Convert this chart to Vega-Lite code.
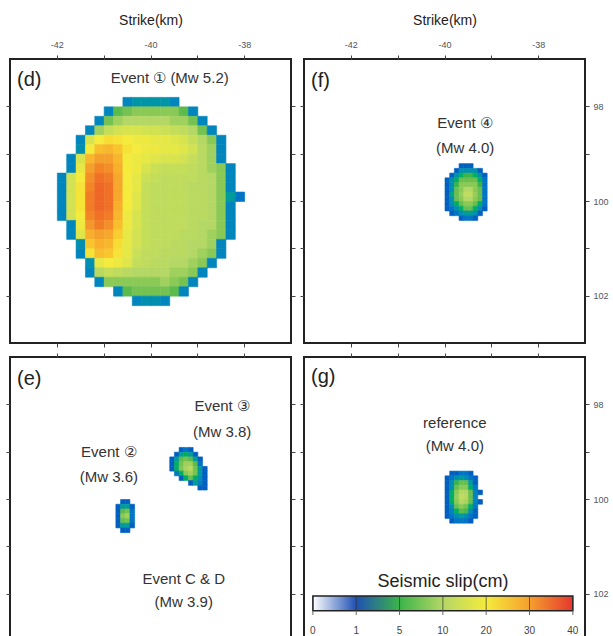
{
"$schema":"https://vega.github.io/schema/vega-lite/v6.json",
"padding":{"left":4,"top":12,"right":0,"bottom":0},
"config":{
"view":{"stroke":"#222","strokeWidth":2},
"axis":{"domain":false,"grid":false,"tickSize":4,"tickColor":"#444","tickWidth":1,"labelFontSize":9,"labelColor":"#555","labelFont":"Liberation Sans","titleFont":"Liberation Sans","titleFontSize":14,"titleFontWeight":"normal","titleColor":"#222","titlePadding":13,"labelPadding":6},
"text":{"font":"Liberation Sans","color":"#222"}
},
"datasets":{
"d":[
{"x":-40.6,"y":97.8,"s":2.6},{"x":-40.4,"y":97.8,"s":3.2},{"x":-40.2,"y":97.8,"s":3.2},{"x":-40,"y":97.8,"s":3.2},{"x":-39.8,"y":97.8,"s":3.2},{"x":-39.6,"y":97.8,"s":2.6},
{"x":-41,"y":98,"s":2.6},{"x":-40.8,"y":98,"s":6},{"x":-40.6,"y":98,"s":7},{"x":-40.4,"y":98,"s":8},{"x":-40.2,"y":98,"s":8},{"x":-40,"y":98,"s":8},{"x":-39.8,"y":98,"s":8},{"x":-39.6,"y":98,"s":8},{"x":-39.4,"y":98,"s":6},{"x":-39.2,"y":98,"s":2.6},
{"x":-41.2,"y":98.2,"s":2.6},{"x":-41,"y":98.2,"s":7},{"x":-40.8,"y":98.2,"s":9},{"x":-40.6,"y":98.2,"s":10},{"x":-40.4,"y":98.2,"s":10},{"x":-40.2,"y":98.2,"s":10},{"x":-40,"y":98.2,"s":10},{"x":-39.8,"y":98.2,"s":10},{"x":-39.6,"y":98.2,"s":9},{"x":-39.4,"y":98.2,"s":9},{"x":-39.2,"y":98.2,"s":7},{"x":-39,"y":98.2,"s":2.6},
{"x":-41.4,"y":98.4,"s":2.6},{"x":-41.2,"y":98.4,"s":9},{"x":-41,"y":98.4,"s":13},{"x":-40.8,"y":98.4,"s":15},{"x":-40.6,"y":98.4,"s":16},{"x":-40.4,"y":98.4,"s":16},{"x":-40.2,"y":98.4,"s":15},{"x":-40,"y":98.4,"s":15},{"x":-39.8,"y":98.4,"s":14},{"x":-39.6,"y":98.4,"s":13},{"x":-39.4,"y":98.4,"s":12},{"x":-39.2,"y":98.4,"s":10},{"x":-39,"y":98.4,"s":7},{"x":-38.8,"y":98.4,"s":2.6},
{"x":-41.6,"y":98.6,"s":2.6},{"x":-41.4,"y":98.6,"s":16},{"x":-41.2,"y":98.6,"s":20},{"x":-41,"y":98.6,"s":22},{"x":-40.8,"y":98.6,"s":21},{"x":-40.6,"y":98.6,"s":20},{"x":-40.4,"y":98.6,"s":19},{"x":-40.2,"y":98.6,"s":19},{"x":-40,"y":98.6,"s":18},{"x":-39.8,"y":98.6,"s":18},{"x":-39.6,"y":98.6,"s":17},{"x":-39.4,"y":98.6,"s":16},{"x":-39.2,"y":98.6,"s":13},{"x":-39,"y":98.6,"s":10},{"x":-38.8,"y":98.6,"s":8},{"x":-38.6,"y":98.6,"s":2.6},
{"x":-41.6,"y":98.8,"s":3},{"x":-41.4,"y":98.8,"s":20},{"x":-41.2,"y":98.8,"s":26},{"x":-41,"y":98.8,"s":27},{"x":-40.8,"y":98.8,"s":25},{"x":-40.6,"y":98.8,"s":21},{"x":-40.4,"y":98.8,"s":20},{"x":-40.2,"y":98.8,"s":19},{"x":-40,"y":98.8,"s":19},{"x":-39.8,"y":98.8,"s":18},{"x":-39.6,"y":98.8,"s":18},{"x":-39.4,"y":98.8,"s":17},{"x":-39.2,"y":98.8,"s":15},{"x":-39,"y":98.8,"s":11},{"x":-38.8,"y":98.8,"s":9},{"x":-38.6,"y":98.8,"s":2.6},
{"x":-41.8,"y":99,"s":2.6},{"x":-41.6,"y":99,"s":16},{"x":-41.4,"y":99,"s":27},{"x":-41.2,"y":99,"s":30},{"x":-41,"y":99,"s":30},{"x":-40.8,"y":99,"s":27},{"x":-40.6,"y":99,"s":20},{"x":-40.4,"y":99,"s":19},{"x":-40.2,"y":99,"s":18},{"x":-40,"y":99,"s":17},{"x":-39.8,"y":99,"s":16},{"x":-39.6,"y":99,"s":16},{"x":-39.4,"y":99,"s":15},{"x":-39.2,"y":99,"s":13},{"x":-39,"y":99,"s":11},{"x":-38.8,"y":99,"s":9},{"x":-38.6,"y":99,"s":2.6},
{"x":-41.8,"y":99.2,"s":2.6},{"x":-41.6,"y":99.2,"s":18},{"x":-41.4,"y":99.2,"s":30},{"x":-41.2,"y":99.2,"s":33},{"x":-41,"y":99.2,"s":32},{"x":-40.8,"y":99.2,"s":28},{"x":-40.6,"y":99.2,"s":20},{"x":-40.4,"y":99.2,"s":19},{"x":-40.2,"y":99.2,"s":16},{"x":-40,"y":99.2,"s":14},{"x":-39.8,"y":99.2,"s":13},{"x":-39.6,"y":99.2,"s":13},{"x":-39.4,"y":99.2,"s":13},{"x":-39.2,"y":99.2,"s":12},{"x":-39,"y":99.2,"s":11},{"x":-38.8,"y":99.2,"s":9},{"x":-38.6,"y":99.2,"s":8},{"x":-38.4,"y":99.2,"s":2.6},
{"x":-42,"y":99.4,"s":2.6},{"x":-41.8,"y":99.4,"s":15},{"x":-41.6,"y":99.4,"s":20},{"x":-41.4,"y":99.4,"s":32},{"x":-41.2,"y":99.4,"s":35},{"x":-41,"y":99.4,"s":34},{"x":-40.8,"y":99.4,"s":29},{"x":-40.6,"y":99.4,"s":20},{"x":-40.4,"y":99.4,"s":18},{"x":-40.2,"y":99.4,"s":14},{"x":-40,"y":99.4,"s":13},{"x":-39.8,"y":99.4,"s":12},{"x":-39.6,"y":99.4,"s":12},{"x":-39.4,"y":99.4,"s":12},{"x":-39.2,"y":99.4,"s":12},{"x":-39,"y":99.4,"s":11},{"x":-38.8,"y":99.4,"s":10},{"x":-38.6,"y":99.4,"s":8},{"x":-38.4,"y":99.4,"s":2.6},
{"x":-42,"y":99.6,"s":2.6},{"x":-41.8,"y":99.6,"s":15},{"x":-41.6,"y":99.6,"s":21},{"x":-41.4,"y":99.6,"s":33},{"x":-41.2,"y":99.6,"s":36},{"x":-41,"y":99.6,"s":35},{"x":-40.8,"y":99.6,"s":29},{"x":-40.6,"y":99.6,"s":20},{"x":-40.4,"y":99.6,"s":18},{"x":-40.2,"y":99.6,"s":13},{"x":-40,"y":99.6,"s":12},{"x":-39.8,"y":99.6,"s":12},{"x":-39.6,"y":99.6,"s":12},{"x":-39.4,"y":99.6,"s":12},{"x":-39.2,"y":99.6,"s":11},{"x":-39,"y":99.6,"s":11},{"x":-38.8,"y":99.6,"s":10},{"x":-38.6,"y":99.6,"s":8},{"x":-38.4,"y":99.6,"s":2.6},
{"x":-42,"y":99.8,"s":2.6},{"x":-41.8,"y":99.8,"s":15},{"x":-41.6,"y":99.8,"s":21},{"x":-41.4,"y":99.8,"s":34},{"x":-41.2,"y":99.8,"s":36},{"x":-41,"y":99.8,"s":35},{"x":-40.8,"y":99.8,"s":29},{"x":-40.6,"y":99.8,"s":20},{"x":-40.4,"y":99.8,"s":17},{"x":-40.2,"y":99.8,"s":13},{"x":-40,"y":99.8,"s":12},{"x":-39.8,"y":99.8,"s":12},{"x":-39.6,"y":99.8,"s":12},{"x":-39.4,"y":99.8,"s":12},{"x":-39.2,"y":99.8,"s":11},{"x":-39,"y":99.8,"s":11},{"x":-38.8,"y":99.8,"s":10},{"x":-38.6,"y":99.8,"s":8},{"x":-38.4,"y":99.8,"s":3.5},{"x":-38.2,"y":99.8,"s":2},
{"x":-42,"y":100,"s":2.6},{"x":-41.8,"y":100,"s":15},{"x":-41.6,"y":100,"s":21},{"x":-41.4,"y":100,"s":34},{"x":-41.2,"y":100,"s":36},{"x":-41,"y":100,"s":35},{"x":-40.8,"y":100,"s":28},{"x":-40.6,"y":100,"s":20},{"x":-40.4,"y":100,"s":17},{"x":-40.2,"y":100,"s":13},{"x":-40,"y":100,"s":12},{"x":-39.8,"y":100,"s":12},{"x":-39.6,"y":100,"s":12},{"x":-39.4,"y":100,"s":12},{"x":-39.2,"y":100,"s":11},{"x":-39,"y":100,"s":11},{"x":-38.8,"y":100,"s":10},{"x":-38.6,"y":100,"s":8},{"x":-38.4,"y":100,"s":2.6},
{"x":-42,"y":100.2,"s":2.6},{"x":-41.8,"y":100.2,"s":15},{"x":-41.6,"y":100.2,"s":20},{"x":-41.4,"y":100.2,"s":33},{"x":-41.2,"y":100.2,"s":35},{"x":-41,"y":100.2,"s":34},{"x":-40.8,"y":100.2,"s":27},{"x":-40.6,"y":100.2,"s":19},{"x":-40.4,"y":100.2,"s":16},{"x":-40.2,"y":100.2,"s":13},{"x":-40,"y":100.2,"s":12},{"x":-39.8,"y":100.2,"s":12},{"x":-39.6,"y":100.2,"s":12},{"x":-39.4,"y":100.2,"s":12},{"x":-39.2,"y":100.2,"s":11},{"x":-39,"y":100.2,"s":11},{"x":-38.8,"y":100.2,"s":10},{"x":-38.6,"y":100.2,"s":8},{"x":-38.4,"y":100.2,"s":2.6},
{"x":-41.8,"y":100.4,"s":2.6},{"x":-41.6,"y":100.4,"s":19},{"x":-41.4,"y":100.4,"s":31},{"x":-41.2,"y":100.4,"s":34},{"x":-41,"y":100.4,"s":32},{"x":-40.8,"y":100.4,"s":26},{"x":-40.6,"y":100.4,"s":19},{"x":-40.4,"y":100.4,"s":16},{"x":-40.2,"y":100.4,"s":13},{"x":-40,"y":100.4,"s":12},{"x":-39.8,"y":100.4,"s":12},{"x":-39.6,"y":100.4,"s":12},{"x":-39.4,"y":100.4,"s":12},{"x":-39.2,"y":100.4,"s":11},{"x":-39,"y":100.4,"s":10},{"x":-38.8,"y":100.4,"s":10},{"x":-38.6,"y":100.4,"s":8},{"x":-38.4,"y":100.4,"s":2.6},
{"x":-41.8,"y":100.6,"s":2.6},{"x":-41.6,"y":100.6,"s":17},{"x":-41.4,"y":100.6,"s":28},{"x":-41.2,"y":100.6,"s":30},{"x":-41,"y":100.6,"s":29},{"x":-40.8,"y":100.6,"s":24},{"x":-40.6,"y":100.6,"s":18},{"x":-40.4,"y":100.6,"s":15},{"x":-40.2,"y":100.6,"s":13},{"x":-40,"y":100.6,"s":12},{"x":-39.8,"y":100.6,"s":12},{"x":-39.6,"y":100.6,"s":12},{"x":-39.4,"y":100.6,"s":11},{"x":-39.2,"y":100.6,"s":11},{"x":-39,"y":100.6,"s":10},{"x":-38.8,"y":100.6,"s":9},{"x":-38.6,"y":100.6,"s":8},{"x":-38.4,"y":100.6,"s":2.6},
{"x":-41.6,"y":100.8,"s":3},{"x":-41.4,"y":100.8,"s":25},{"x":-41.2,"y":100.8,"s":28},{"x":-41,"y":100.8,"s":27},{"x":-40.8,"y":100.8,"s":22},{"x":-40.6,"y":100.8,"s":18},{"x":-40.4,"y":100.8,"s":15},{"x":-40.2,"y":100.8,"s":13},{"x":-40,"y":100.8,"s":12},{"x":-39.8,"y":100.8,"s":12},{"x":-39.6,"y":100.8,"s":11},{"x":-39.4,"y":100.8,"s":11},{"x":-39.2,"y":100.8,"s":10},{"x":-39,"y":100.8,"s":10},{"x":-38.8,"y":100.8,"s":9},{"x":-38.6,"y":100.8,"s":2.6},
{"x":-41.6,"y":101,"s":2.6},{"x":-41.4,"y":101,"s":21},{"x":-41.2,"y":101,"s":26},{"x":-41,"y":101,"s":25},{"x":-40.8,"y":101,"s":21},{"x":-40.6,"y":101,"s":18},{"x":-40.4,"y":101,"s":14},{"x":-40.2,"y":101,"s":12},{"x":-40,"y":101,"s":12},{"x":-39.8,"y":101,"s":11},{"x":-39.6,"y":101,"s":11},{"x":-39.4,"y":101,"s":11},{"x":-39.2,"y":101,"s":10},{"x":-39,"y":101,"s":9},{"x":-38.8,"y":101,"s":8},{"x":-38.6,"y":101,"s":2.6},
{"x":-41.4,"y":101.2,"s":3},{"x":-41.2,"y":101.2,"s":18},{"x":-41,"y":101.2,"s":20},{"x":-40.8,"y":101.2,"s":19},{"x":-40.6,"y":101.2,"s":17},{"x":-40.4,"y":101.2,"s":13},{"x":-40.2,"y":101.2,"s":12},{"x":-40,"y":101.2,"s":11},{"x":-39.8,"y":101.2,"s":11},{"x":-39.6,"y":101.2,"s":10},{"x":-39.4,"y":101.2,"s":10},{"x":-39.2,"y":101.2,"s":9},{"x":-39,"y":101.2,"s":8},{"x":-38.8,"y":101.2,"s":2.6},
{"x":-41.4,"y":101.4,"s":2.6},{"x":-41.2,"y":101.4,"s":11},{"x":-41,"y":101.4,"s":13},{"x":-40.8,"y":101.4,"s":12},{"x":-40.6,"y":101.4,"s":11},{"x":-40.4,"y":101.4,"s":10},{"x":-40.2,"y":101.4,"s":10},{"x":-40,"y":101.4,"s":10},{"x":-39.8,"y":101.4,"s":10},{"x":-39.6,"y":101.4,"s":9},{"x":-39.4,"y":101.4,"s":9},{"x":-39.2,"y":101.4,"s":8},{"x":-39,"y":101.4,"s":2.6},
{"x":-41.2,"y":101.6,"s":2.6},{"x":-41,"y":101.6,"s":8},{"x":-40.8,"y":101.6,"s":8},{"x":-40.6,"y":101.6,"s":8},{"x":-40.4,"y":101.6,"s":8},{"x":-40.2,"y":101.6,"s":8},{"x":-40,"y":101.6,"s":8},{"x":-39.8,"y":101.6,"s":9},{"x":-39.6,"y":101.6,"s":8},{"x":-39.4,"y":101.6,"s":7},{"x":-39.2,"y":101.6,"s":2.6},
{"x":-40.8,"y":101.8,"s":2.6},{"x":-40.6,"y":101.8,"s":6},{"x":-40.4,"y":101.8,"s":7},{"x":-40.2,"y":101.8,"s":7},{"x":-40,"y":101.8,"s":7},{"x":-39.8,"y":101.8,"s":7},{"x":-39.6,"y":101.8,"s":6},{"x":-39.4,"y":101.8,"s":2.6},
{"x":-40.4,"y":102,"s":2.6},{"x":-40.2,"y":102,"s":3},{"x":-40,"y":102,"s":3},{"x":-39.8,"y":102,"s":2.6}
],
"f":[
{"x":-39.7,"y":99.2,"s":1.4},{"x":-39.6,"y":99.2,"s":1.4},{"x":-39.5,"y":99.2,"s":1.4},
{"x":-39.8,"y":99.3,"s":1.4},{"x":-39.7,"y":99.3,"s":3},{"x":-39.6,"y":99.3,"s":3},{"x":-39.5,"y":99.3,"s":3},{"x":-39.4,"y":99.3,"s":3},{"x":-39.3,"y":99.3,"s":1.4},
{"x":-39.9,"y":99.4,"s":1.4},{"x":-39.8,"y":99.4,"s":3},{"x":-39.7,"y":99.4,"s":4.5},{"x":-39.6,"y":99.4,"s":5},{"x":-39.5,"y":99.4,"s":5},{"x":-39.4,"y":99.4,"s":4.5},{"x":-39.3,"y":99.4,"s":3},{"x":-39.2,"y":99.4,"s":1.4},
{"x":-40,"y":99.5,"s":1.4},{"x":-39.9,"y":99.5,"s":3},{"x":-39.8,"y":99.5,"s":4.5},{"x":-39.7,"y":99.5,"s":6.5},{"x":-39.6,"y":99.5,"s":6.5},{"x":-39.5,"y":99.5,"s":6.5},{"x":-39.4,"y":99.5,"s":6.5},{"x":-39.3,"y":99.5,"s":4.5},{"x":-39.2,"y":99.5,"s":2},
{"x":-40,"y":99.6,"s":1.4},{"x":-39.9,"y":99.6,"s":3},{"x":-39.8,"y":99.6,"s":5},{"x":-39.7,"y":99.6,"s":8},{"x":-39.6,"y":99.6,"s":8},{"x":-39.5,"y":99.6,"s":8},{"x":-39.4,"y":99.6,"s":8},{"x":-39.3,"y":99.6,"s":5},{"x":-39.2,"y":99.6,"s":2},
{"x":-40,"y":99.7,"s":1.4},{"x":-39.9,"y":99.7,"s":3},{"x":-39.8,"y":99.7,"s":6.5},{"x":-39.7,"y":99.7,"s":8},{"x":-39.6,"y":99.7,"s":10},{"x":-39.5,"y":99.7,"s":10},{"x":-39.4,"y":99.7,"s":8},{"x":-39.3,"y":99.7,"s":6.5},{"x":-39.2,"y":99.7,"s":2},
{"x":-40,"y":99.8,"s":1.4},{"x":-39.9,"y":99.8,"s":4},{"x":-39.8,"y":99.8,"s":6.5},{"x":-39.7,"y":99.8,"s":8.5},{"x":-39.6,"y":99.8,"s":12},{"x":-39.5,"y":99.8,"s":12},{"x":-39.4,"y":99.8,"s":8.5},{"x":-39.3,"y":99.8,"s":6.5},{"x":-39.2,"y":99.8,"s":2},
{"x":-40,"y":99.9,"s":1.4},{"x":-39.9,"y":99.9,"s":3},{"x":-39.8,"y":99.9,"s":6.5},{"x":-39.7,"y":99.9,"s":8},{"x":-39.6,"y":99.9,"s":10},{"x":-39.5,"y":99.9,"s":10},{"x":-39.4,"y":99.9,"s":8},{"x":-39.3,"y":99.9,"s":6.5},{"x":-39.2,"y":99.9,"s":2},
{"x":-40,"y":100,"s":1.4},{"x":-39.9,"y":100,"s":3},{"x":-39.8,"y":100,"s":4.5},{"x":-39.7,"y":100,"s":6.5},{"x":-39.6,"y":100,"s":8},{"x":-39.5,"y":100,"s":8},{"x":-39.4,"y":100,"s":6.5},{"x":-39.3,"y":100,"s":4.5},{"x":-39.2,"y":100,"s":2},
{"x":-40,"y":100.1,"s":1.4},{"x":-39.9,"y":100.1,"s":2},{"x":-39.8,"y":100.1,"s":3},{"x":-39.7,"y":100.1,"s":4.5},{"x":-39.6,"y":100.1,"s":6.5},{"x":-39.5,"y":100.1,"s":6.5},{"x":-39.4,"y":100.1,"s":4.5},{"x":-39.3,"y":100.1,"s":3},{"x":-39.2,"y":100.1,"s":1.4},
{"x":-39.9,"y":100.2,"s":1.4},{"x":-39.8,"y":100.2,"s":2},{"x":-39.7,"y":100.2,"s":3},{"x":-39.6,"y":100.2,"s":3.5},{"x":-39.5,"y":100.2,"s":3.5},{"x":-39.4,"y":100.2,"s":3},{"x":-39.3,"y":100.2,"s":1.4},
{"x":-39.7,"y":100.3,"s":1.4},{"x":-39.6,"y":100.3,"s":2},{"x":-39.5,"y":100.3,"s":2},{"x":-39.4,"y":100.3,"s":1.4}
],
"e":[
{"x":-40.65,"y":100,"s":1.4},{"x":-40.55,"y":100,"s":1.4},
{"x":-40.75,"y":100.1,"s":1.4},{"x":-40.65,"y":100.1,"s":3.5},{"x":-40.55,"y":100.1,"s":3.5},{"x":-40.45,"y":100.1,"s":1.4},
{"x":-40.75,"y":100.2,"s":1.4},{"x":-40.65,"y":100.2,"s":6},{"x":-40.55,"y":100.2,"s":7},{"x":-40.45,"y":100.2,"s":2},
{"x":-40.75,"y":100.3,"s":1.4},{"x":-40.65,"y":100.3,"s":8},{"x":-40.55,"y":100.3,"s":9},{"x":-40.45,"y":100.3,"s":2},
{"x":-40.75,"y":100.4,"s":1.4},{"x":-40.65,"y":100.4,"s":6.5},{"x":-40.55,"y":100.4,"s":7},{"x":-40.45,"y":100.4,"s":2},
{"x":-40.75,"y":100.5,"s":1.4},{"x":-40.65,"y":100.5,"s":3.5},{"x":-40.55,"y":100.5,"s":3.5},{"x":-40.45,"y":100.5,"s":1.4},
{"x":-40.65,"y":100.6,"s":1.4},{"x":-40.55,"y":100.6,"s":1.4},
{"x":-39.4,"y":98.9,"s":1.4},{"x":-39.3,"y":98.9,"s":2},{"x":-39.2,"y":98.9,"s":1.4},
{"x":-39.5,"y":99,"s":1.4},{"x":-39.4,"y":99,"s":3.5},{"x":-39.3,"y":99,"s":4.5},{"x":-39.2,"y":99,"s":3.5},{"x":-39.1,"y":99,"s":1.4},
{"x":-39.6,"y":99.1,"s":1.4},{"x":-39.5,"y":99.1,"s":3.5},{"x":-39.4,"y":99.1,"s":6},{"x":-39.3,"y":99.1,"s":7},{"x":-39.2,"y":99.1,"s":6},{"x":-39.1,"y":99.1,"s":3.5},{"x":-39,"y":99.1,"s":1.4},
{"x":-39.6,"y":99.2,"s":1.4},{"x":-39.5,"y":99.2,"s":4.5},{"x":-39.4,"y":99.2,"s":7},{"x":-39.3,"y":99.2,"s":9},{"x":-39.2,"y":99.2,"s":9},{"x":-39.1,"y":99.2,"s":6},{"x":-39,"y":99.2,"s":2},
{"x":-39.6,"y":99.3,"s":1.4},{"x":-39.5,"y":99.3,"s":4.5},{"x":-39.4,"y":99.3,"s":7.5},{"x":-39.3,"y":99.3,"s":9.5},{"x":-39.2,"y":99.3,"s":11},{"x":-39.1,"y":99.3,"s":7},{"x":-39,"y":99.3,"s":3.5},{"x":-38.9,"y":99.3,"s":1.4},
{"x":-39.5,"y":99.4,"s":2},{"x":-39.4,"y":99.4,"s":4.5},{"x":-39.3,"y":99.4,"s":8},{"x":-39.2,"y":99.4,"s":9},{"x":-39.1,"y":99.4,"s":7},{"x":-39,"y":99.4,"s":3.5},{"x":-38.9,"y":99.4,"s":1.4},
{"x":-39.4,"y":99.5,"s":1.4},{"x":-39.3,"y":99.5,"s":4.5},{"x":-39.2,"y":99.5,"s":6.5},{"x":-39.1,"y":99.5,"s":4.5},{"x":-39,"y":99.5,"s":3},{"x":-38.9,"y":99.5,"s":1.4},
{"x":-39.2,"y":99.6,"s":1.4},{"x":-39.1,"y":99.6,"s":3.5},{"x":-39,"y":99.6,"s":2.5},{"x":-38.9,"y":99.6,"s":1.4},
{"x":-39,"y":99.7,"s":1.4},{"x":-38.9,"y":99.7,"s":1.4}
],
"g":[
{"x":-39.9,"y":99.4,"s":1.4},{"x":-39.8,"y":99.4,"s":1.4},{"x":-39.7,"y":99.4,"s":2},{"x":-39.6,"y":99.4,"s":2},{"x":-39.5,"y":99.4,"s":1.4},
{"x":-40,"y":99.5,"s":1.4},{"x":-39.9,"y":99.5,"s":2},{"x":-39.8,"y":99.5,"s":3},{"x":-39.7,"y":99.5,"s":3.5},{"x":-39.6,"y":99.5,"s":3},{"x":-39.5,"y":99.5,"s":2},{"x":-39.4,"y":99.5,"s":1.4},
{"x":-40,"y":99.6,"s":1.4},{"x":-39.9,"y":99.6,"s":3},{"x":-39.8,"y":99.6,"s":5},{"x":-39.7,"y":99.6,"s":6.5},{"x":-39.6,"y":99.6,"s":6.5},{"x":-39.5,"y":99.6,"s":3.5},{"x":-39.4,"y":99.6,"s":1.4},
{"x":-40,"y":99.7,"s":1.4},{"x":-39.9,"y":99.7,"s":3},{"x":-39.8,"y":99.7,"s":6.5},{"x":-39.7,"y":99.7,"s":8},{"x":-39.6,"y":99.7,"s":8},{"x":-39.5,"y":99.7,"s":4.5},{"x":-39.4,"y":99.7,"s":2},
{"x":-40,"y":99.8,"s":1.4},{"x":-39.9,"y":99.8,"s":4.5},{"x":-39.8,"y":99.8,"s":8},{"x":-39.7,"y":99.8,"s":10},{"x":-39.6,"y":99.8,"s":10},{"x":-39.5,"y":99.8,"s":6.5},{"x":-39.4,"y":99.8,"s":2.5},{"x":-39.3,"y":99.8,"s":1.4},
{"x":-40,"y":99.9,"s":1.4},{"x":-39.9,"y":99.9,"s":4.5},{"x":-39.8,"y":99.9,"s":8.5},{"x":-39.7,"y":99.9,"s":12},{"x":-39.6,"y":99.9,"s":11},{"x":-39.5,"y":99.9,"s":6.5},{"x":-39.4,"y":99.9,"s":2.5},
{"x":-40,"y":100,"s":1.4},{"x":-39.9,"y":100,"s":4.5},{"x":-39.8,"y":100,"s":8},{"x":-39.7,"y":100,"s":10},{"x":-39.6,"y":100,"s":9.5},{"x":-39.5,"y":100,"s":6.5},{"x":-39.4,"y":100,"s":2.5},{"x":-39.3,"y":100,"s":1.4},
{"x":-40,"y":100.1,"s":1.4},{"x":-39.9,"y":100.1,"s":3},{"x":-39.8,"y":100.1,"s":6.5},{"x":-39.7,"y":100.1,"s":8},{"x":-39.6,"y":100.1,"s":7},{"x":-39.5,"y":100.1,"s":4.5},{"x":-39.4,"y":100.1,"s":2},
{"x":-40,"y":100.2,"s":1.4},{"x":-39.9,"y":100.2,"s":2.5},{"x":-39.8,"y":100.2,"s":4.5},{"x":-39.7,"y":100.2,"s":6},{"x":-39.6,"y":100.2,"s":5.5},{"x":-39.5,"y":100.2,"s":3},{"x":-39.4,"y":100.2,"s":1.4},
{"x":-40,"y":100.3,"s":1.4},{"x":-39.9,"y":100.3,"s":2},{"x":-39.8,"y":100.3,"s":3},{"x":-39.7,"y":100.3,"s":3.5},{"x":-39.6,"y":100.3,"s":3},{"x":-39.5,"y":100.3,"s":2},{"x":-39.4,"y":100.3,"s":1.4},
{"x":-39.9,"y":100.4,"s":1.4},{"x":-39.8,"y":100.4,"s":2},{"x":-39.7,"y":100.4,"s":2},{"x":-39.6,"y":100.4,"s":2},{"x":-39.5,"y":100.4,"s":1.4}
]
},
"vconcat":[
{"hconcat":[
{"width":281,"height":284,
"layer":[
{"data":{"name":"d"},"mark":{"type":"rect","binSpacing":0,"strokeWidth":0.6},
"encoding":{
"x":{"field":"x","type":"quantitative","bin":{"binned":true,"step":0.2},"scale":{"domain":[-43,-37],"nice":false,"zero":false},"axis":{"orient":"top","values":[-42,-41,-40,-39,-38],"labelExpr":"datum.value % 2 == 0 ? '' + datum.value : ''","title":"Strike(km)"}},
"y":{"field":"y","type":"quantitative","bin":{"binned":true,"step":0.2},"scale":{"domain":[97,103],"reverse":true,"nice":false,"zero":false},"axis":{"orient":"right","values":[98,99,100,101,102],"labels":false,"title":null}},
"color":{"field":"s","type":"quantitative","scale":{"domain":[0,1,5,10,20,30,40],"range":["#ffffff","#1e50b4","#3cb44a","#b4d765","#f5eb3c","#f5a02d","#e6372d"]},"legend":null},
"stroke":{"field":"s","type":"quantitative","scale":{"domain":[0,1,5,10,20,30,40],"range":["#ffffff","#1e50b4","#3cb44a","#b4d765","#f5eb3c","#f5a02d","#e6372d"]},"legend":null}}},
{"data":{"values":[{"x":-42.85,"y":97.44,"t":"(d)"}]},"mark":{"type":"text","fontSize":20,"align":"left","baseline":"middle"},
"encoding":{"x":{"field":"x","type":"quantitative","scale":{"domain":[-43,-37],"nice":false,"zero":false},"axis":{"orient":"bottom","values":[-42,-41,-40,-39,-38],"labels":false,"title":null}},
"y":{"field":"y","type":"quantitative","scale":{"domain":[97,103],"reverse":true,"nice":false,"zero":false},"axis":{"orient":"left","values":[98,99,100,101,102],"labels":false,"title":null}},
"text":{"field":"t"}}},
{"data":{"values":[{"x":-39.59,"y":97.4,"t":"Event ① (Mw 5.2)"}]},"mark":{"type":"text","fontSize":15,"align":"center","baseline":"middle","color":"#333"},
"encoding":{"x":{"field":"x","type":"quantitative","axis":null},"y":{"field":"y","type":"quantitative","axis":null},"text":{"field":"t"}}}
],
"resolve":{"axis":{"x":"independent","y":"independent"}}},
{"width":281,"height":284,
"layer":[
{"data":{"name":"f"},"mark":{"type":"rect","binSpacing":0,"strokeWidth":0.6},
"encoding":{
"x":{"field":"x","type":"quantitative","bin":{"binned":true,"step":0.1},"scale":{"domain":[-43,-37],"nice":false,"zero":false},"axis":{"orient":"top","values":[-42,-41,-40,-39,-38],"labelExpr":"datum.value % 2 == 0 ? '' + datum.value : ''","title":"Strike(km)"}},
"y":{"field":"y","type":"quantitative","bin":{"binned":true,"step":0.1},"scale":{"domain":[97,103],"reverse":true,"nice":false,"zero":false},"axis":{"orient":"right","values":[98,99,100,101,102],"labelExpr":"datum.value % 2 == 0 ? '' + datum.value : ''","title":null,"labelPadding":4}},
"color":{"field":"s","type":"quantitative","scale":{"domain":[0,1,5,10,20,30,40],"range":["#ffffff","#1e50b4","#3cb44a","#b4d765","#f5eb3c","#f5a02d","#e6372d"]},"legend":null},
"stroke":{"field":"s","type":"quantitative","scale":{"domain":[0,1,5,10,20,30,40],"range":["#ffffff","#1e50b4","#3cb44a","#b4d765","#f5eb3c","#f5a02d","#e6372d"]},"legend":null}}},
{"data":{"values":[{"x":-42.85,"y":97.46,"t":"(f)"}]},"mark":{"type":"text","fontSize":20,"align":"left","baseline":"middle"},
"encoding":{"x":{"field":"x","type":"quantitative","scale":{"domain":[-43,-37],"nice":false,"zero":false},"axis":{"orient":"bottom","values":[-42,-41,-40,-39,-38],"labels":false,"title":null}},
"y":{"field":"y","type":"quantitative","scale":{"domain":[97,103],"reverse":true,"nice":false,"zero":false},"axis":{"orient":"left","values":[98,99,100,101,102],"labels":false,"title":null}},
"text":{"field":"t"}}},
{"data":{"values":[{"x":-39.56,"y":98.35,"t":"Event ④"},{"x":-39.56,"y":98.88,"t":"(Mw 4.0)"}]},"mark":{"type":"text","fontSize":15,"align":"center","baseline":"middle","color":"#333"},
"encoding":{"x":{"field":"x","type":"quantitative","axis":null},"y":{"field":"y","type":"quantitative","axis":null},"text":{"field":"t"}}}
],
"resolve":{"axis":{"x":"independent","y":"independent"}}}
],"spacing":1},
{"hconcat":[
{"width":281,"height":284,
"layer":[
{"data":{"name":"e"},"mark":{"type":"rect","binSpacing":0,"strokeWidth":0.6},
"encoding":{
"x":{"field":"x","type":"quantitative","bin":{"binned":true,"step":0.1},"scale":{"domain":[-43,-37],"nice":false,"zero":false},"axis":{"orient":"top","values":[-42,-41,-40,-39,-38],"labels":false,"title":null}},
"y":{"field":"y","type":"quantitative","bin":{"binned":true,"step":0.1},"scale":{"domain":[97,103],"reverse":true,"nice":false,"zero":false},"axis":{"orient":"right","values":[98,99,100,101,102],"labels":false,"title":null}},
"color":{"field":"s","type":"quantitative","scale":{"domain":[0,1,5,10,20,30,40],"range":["#ffffff","#1e50b4","#3cb44a","#b4d765","#f5eb3c","#f5a02d","#e6372d"]},"legend":null},
"stroke":{"field":"s","type":"quantitative","scale":{"domain":[0,1,5,10,20,30,40],"range":["#ffffff","#1e50b4","#3cb44a","#b4d765","#f5eb3c","#f5a02d","#e6372d"]},"legend":null}}},
{"data":{"values":[{"x":-42.85,"y":97.46,"t":"(e)"}]},"mark":{"type":"text","fontSize":20,"align":"left","baseline":"middle"},
"encoding":{"x":{"field":"x","type":"quantitative","scale":{"domain":[-43,-37],"nice":false,"zero":false},"axis":{"orient":"bottom","values":[-42,-41,-40,-39,-38],"labels":false,"title":null}},
"y":{"field":"y","type":"quantitative","scale":{"domain":[97,103],"reverse":true,"nice":false,"zero":false},"axis":{"orient":"left","values":[98,99,100,101,102],"labels":false,"title":null}},
"text":{"field":"t"}}},
{"data":{"values":[{"x":-38.47,"y":98.04,"t":"Event ③"},{"x":-38.47,"y":98.58,"t":"(Mw 3.8)"},{"x":-40.89,"y":99.01,"t":"Event ②"},{"x":-40.89,"y":99.54,"t":"(Mw 3.6)"},{"x":-39.29,"y":101.69,"t":"Event C & D"},{"x":-39.29,"y":102.17,"t":"(Mw 3.9)"}]},"mark":{"type":"text","fontSize":15,"align":"center","baseline":"middle","color":"#333"},
"encoding":{"x":{"field":"x","type":"quantitative","axis":null},"y":{"field":"y","type":"quantitative","axis":null},"text":{"field":"t"}}}
],
"resolve":{"axis":{"x":"independent","y":"independent"}}},
{"width":281,"height":284,
"layer":[
{"data":{"name":"g"},"mark":{"type":"rect","binSpacing":0,"strokeWidth":0.6},
"encoding":{
"x":{"field":"x","type":"quantitative","bin":{"binned":true,"step":0.1},"scale":{"domain":[-43,-37],"nice":false,"zero":false},"axis":{"orient":"top","values":[-42,-41,-40,-39,-38],"labels":false,"title":null}},
"y":{"field":"y","type":"quantitative","bin":{"binned":true,"step":0.1},"scale":{"domain":[97,103],"reverse":true,"nice":false,"zero":false},"axis":{"orient":"right","values":[98,99,100,101,102],"labelExpr":"datum.value % 2 == 0 ? '' + datum.value : ''","title":null,"labelPadding":4}},
"color":{"field":"s","type":"quantitative","scale":{"domain":[0,1,5,10,20,30,40],"range":["#ffffff","#1e50b4","#3cb44a","#b4d765","#f5eb3c","#f5a02d","#e6372d"]},"legend":null},
"stroke":{"field":"s","type":"quantitative","scale":{"domain":[0,1,5,10,20,30,40],"range":["#ffffff","#1e50b4","#3cb44a","#b4d765","#f5eb3c","#f5a02d","#e6372d"]},"legend":null}}},
{"data":{"values":[{"x":-42.85,"y":97.42,"t":"(g)"}]},"mark":{"type":"text","fontSize":20,"align":"left","baseline":"middle"},
"encoding":{"x":{"field":"x","type":"quantitative","scale":{"domain":[-43,-37],"nice":false,"zero":false},"axis":{"orient":"bottom","values":[-42,-41,-40,-39,-38],"labels":false,"title":null}},
"y":{"field":"y","type":"quantitative","scale":{"domain":[97,103],"reverse":true,"nice":false,"zero":false},"axis":{"orient":"left","values":[98,99,100,101,102],"labels":false,"title":null}},
"text":{"field":"t"}}},
{"data":{"values":[{"x":-39.78,"y":98.39,"t":"reference"},{"x":-39.78,"y":98.88,"t":"(Mw 4.0)"}]},"mark":{"type":"text","fontSize":15,"align":"center","baseline":"middle","color":"#333"},
"encoding":{"x":{"field":"x","type":"quantitative","axis":null},"y":{"field":"y","type":"quantitative","axis":null},"text":{"field":"t"}}},
{"data":{"values":[{"x":-40.03,"y":101.75,"t":"Seismic slip(cm)"}]},"mark":{"type":"text","fontSize":18,"align":"center","baseline":"middle","color":"#222"},
"encoding":{"x":{"field":"x","type":"quantitative","axis":null},"y":{"field":"y","type":"quantitative","axis":null},"text":{"field":"t"}}},
{"data":{"values":[{"a":1}]},"mark":{"type":"rect","stroke":"#222","strokeWidth":1.5,"fill":{"gradient":"linear","x1":0,"y1":0,"x2":1,"y2":0,"stops":[{"offset":0,"color":"#ffffff"},{"offset":0.1667,"color":"#1e50b4"},{"offset":0.3333,"color":"#3cb44a"},{"offset":0.5,"color":"#b4d765"},{"offset":0.6667,"color":"#f5eb3c"},{"offset":0.8333,"color":"#f5a02d"},{"offset":1,"color":"#e6372d"}]}},
"encoding":{"x":{"datum":-42.81,"type":"quantitative","axis":null},"x2":{"datum":-37.26},"y":{"datum":102.05,"type":"quantitative","axis":null},"y2":{"datum":102.36}}},
{"data":{"values":[{"v":"0","x":-42.81},{"v":"1","x":-41.885},{"v":"5","x":-40.96},{"v":"10","x":-40.035},{"v":"20","x":-39.11},{"v":"30","x":-38.185},{"v":"40","x":-37.26}]},
"layer":[
{"mark":{"type":"rule","color":"#333","strokeWidth":1,"opacity":0.7},"encoding":{"x":{"field":"x","type":"quantitative","axis":null},"y":{"datum":102.05,"type":"quantitative","axis":null},"y2":{"datum":102.36}}},
{"mark":{"type":"rule","color":"#666","strokeWidth":1},"encoding":{"x":{"field":"x","type":"quantitative","axis":null},"y":{"datum":102.36,"type":"quantitative","axis":null},"y2":{"datum":102.45}}},
{"mark":{"type":"text","fontSize":10,"color":"#444","baseline":"middle","align":"center"},"encoding":{"x":{"field":"x","type":"quantitative","axis":null},"y":{"datum":102.78,"type":"quantitative","axis":null},"text":{"field":"v"}}}
]}
],
"resolve":{"axis":{"x":"independent","y":"independent"}}}
],"spacing":1}
],
"spacing":2
}
